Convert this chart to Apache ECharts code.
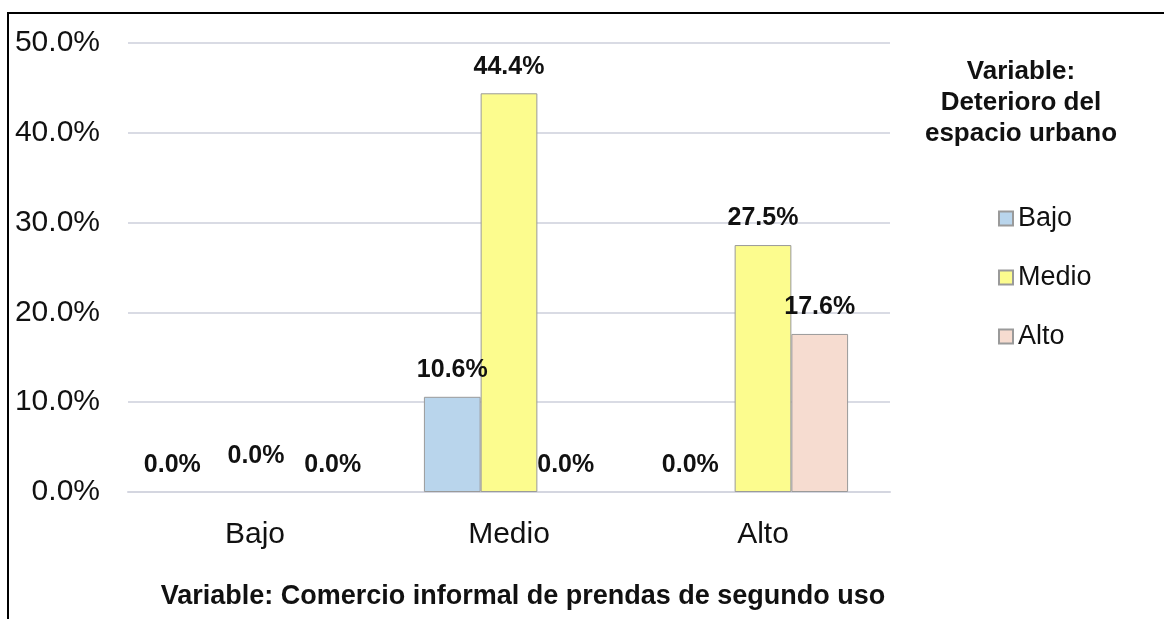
<!DOCTYPE html>
<html>
<head>
<meta charset="utf-8">
<script src="https://cdn.jsdelivr.net/npm/echarts@6/dist/echarts.min.js"></script>
<style>
html,body{margin:0;padding:0;background:#fff;}
#chart{width:1164px;height:619px;position:absolute;left:0;top:0;}
#frame{position:absolute;left:7px;top:12px;width:1157px;height:607px;border-top:2px solid #000;border-left:2px solid #000;box-sizing:border-box;pointer-events:none;}
</style>
</head>
<body>
<div id="chart"></div>
<div id="frame"></div>
<script>
const categories = ['Bajo', 'Medio', 'Alto'];
const seriesNames = ['Bajo', 'Medio', 'Alto'];
const valuesBajo = [0.0, 10.6, 0.0];
const valuesMedio = [0.0, 44.4, 27.5];
const valuesAlto = [0.0, 0.0, 17.6];
const yTicks = [0, 10, 20, 30, 40, 50];
const colors = ['#b9d5ec', '#fcfc8e', '#f6dcd0'];
const xTitle = 'Variable: Comercio informal de prendas de segundo uso';
const legendTitle = 'Variable:\nDeterioro del\nespacio urbano';

// label nudges for the zero-valued labels (as in the original image)
const labelNudges = {
  'Bajo|Bajo': [-26, 0], 'Bajo|Medio': [1, -9], 'Bajo|Alto': [21, 0],
  'Alto|Bajo': [-16, 0]
};

const FONT = '"Liberation Sans", Arial, sans-serif';
const allValues = [valuesBajo, valuesMedio, valuesAlto];

const series = seriesNames.map((name, si) => ({
  name: name,
  type: 'bar',
  barGap: '0%',
  barCategoryGap: '33%',
  itemStyle: { color: colors[si], borderColor: '#9a9a9a', borderWidth: 1 },
  label: {
    show: true, position: 'top', distance: 14,
    fontFamily: FONT, fontWeight: 'bold', fontSize: 25, color: '#111',
    formatter: p => p.value.toFixed(1) + '%'
  },
  data: allValues[si].map((v, ci) => {
    const key = categories[ci] + '|' + name;
    const d = { value: v };
    if (labelNudges[key]) d.label = { offset: labelNudges[key] };
    if (v === 0) d.itemStyle = { borderWidth: 0 };
    return d;
  })
}));

const chart = echarts.init(document.getElementById('chart'), null, { renderer: 'canvas' });
chart.setOption({
  animation: false,
  backgroundColor: '#fff',
  textStyle: { fontFamily: FONT },
  title: [
    { text: legendTitle, left: 1016, top: 51, textAlign: 'center',
      textStyle: { fontFamily: FONT, fontWeight: 'bold', fontSize: 26, lineHeight: 31, color: '#111' } },
    { text: xTitle, left: 518, top: 578, textAlign: 'center',
      textStyle: { fontFamily: FONT, fontWeight: 'bold', fontSize: 27, color: '#111' } }
  ],
  legend: {
    orient: 'vertical', left: 993, top: 200,
    itemWidth: 14, itemHeight: 14, itemGap: 32, itemTextGap: 6,
    icon: 'rect',
    textStyle: { fontFamily: FONT, fontSize: 27, color: '#111' },
    data: seriesNames
  },
  grid: { left: 128, right: 274, top: 43, bottom: 127, containLabel: false },
  xAxis: {
    type: 'category', data: categories,
    axisLine: { lineStyle: { color: '#d4d6e0', width: 2 } },
    axisTick: { show: false },
    axisLabel: { fontFamily: FONT, fontSize: 30, color: '#111', margin: 28 }
  },
  yAxis: {
    type: 'value', min: yTicks[0], max: yTicks[yTicks.length - 1], interval: yTicks[1] - yTicks[0],
    axisLine: { show: false }, axisTick: { show: false },
    splitLine: { lineStyle: { color: '#d9dbe4', width: 2 } },
    axisLabel: { fontFamily: FONT, fontSize: 30, color: '#111', margin: 28,
      formatter: v => v.toFixed(1) + '%' }
  },
  series: series
});
</script>
</body>
</html>
